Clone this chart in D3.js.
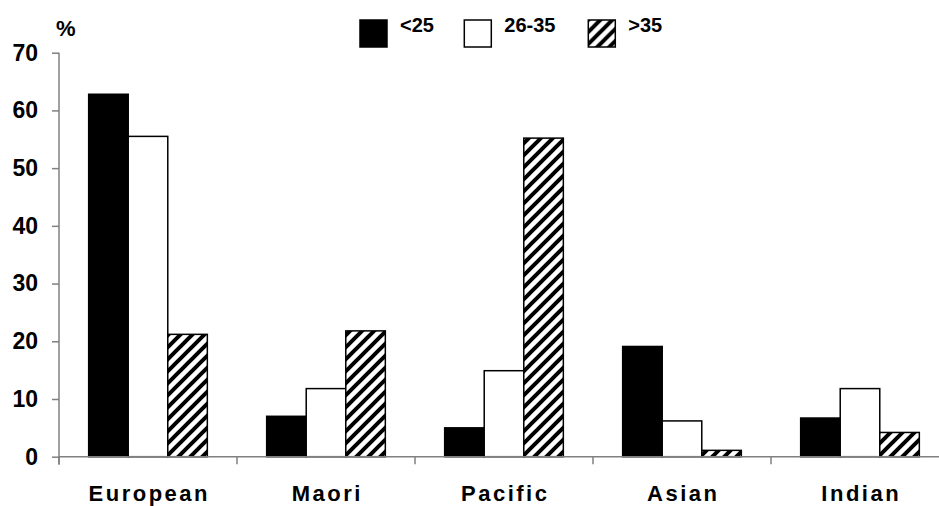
<!DOCTYPE html>
<html>
<head>
<meta charset="utf-8">
<script src="https://cdn.jsdelivr.net/npm/d3@7/dist/d3.min.js"></script>
<style>
  html, body { margin: 0; padding: 0; background: #fff; }
  svg { display: block; font-family: Arial, "Liberation Sans", sans-serif; font-weight: bold; }
</style>
</head>
<body>
<svg id="chart" width="939" height="506"></svg>
<script>
// Share (%) of each ethnic group by age band
const categories = ["European", "Maori", "Pacific", "Asian", "Indian"];
const seriesNames = ["<25", "26-35", ">35"];
const under25 = [62.8, 7.0, 5.0, 19.1, 6.7];
const age26to35 = [55.5, 11.8, 14.9, 6.2, 11.8];
const over35 = [21.2, 21.8, 55.2, 1.1, 4.2];
const yTicks = [0, 10, 20, 30, 40, 50, 60, 70];

const seriesValues = [under25, age26to35, over35];
const fills = ["#000", "#fff", "url(#hatch)"];

const svg = d3.select("#chart");
const axisColor = "#808080";

// diagonal hatch fill
const defs = svg.append("defs");
const pat = defs.append("pattern")
  .attr("id", "hatch")
  .attr("patternUnits", "userSpaceOnUse")
  .attr("width", 12).attr("height", 12);
pat.append("rect").attr("width", 12).attr("height", 12).attr("fill", "#fff");
pat.append("path")
  .attr("d", "M-3,3 L3,-3 M0,12 L12,0 M9,15 L15,9")
  .attr("stroke", "#000").attr("stroke-width", 4);

const x0 = d3.scaleBand().domain(categories).range([59, 949]).padding(0);
const x1 = d3.scaleBand().domain(seriesNames)
  .range([x0.bandwidth() / 6, x0.bandwidth() * 5 / 6]).padding(0);
const y = d3.scaleLinear().domain([0, 70]).range([456.7, 52.7]);

// bars
const groups = svg.append("g").selectAll("g")
  .data(categories).join("g")
  .attr("transform", d => `translate(${x0(d)},0)`);

groups.selectAll("rect")
  .data((c, ci) => seriesNames.map((s, si) => ({ s, si, v: seriesValues[si][ci] })))
  .join("rect")
  .attr("x", d => x1(d.s))
  .attr("y", d => y(d.v))
  .attr("width", x1.bandwidth())
  .attr("height", d => y(0) - y(d.v))
  .attr("fill", d => fills[d.si])
  .attr("stroke", "#000")
  .attr("stroke-width", 1.5);

// y axis
const yAxis = svg.append("g")
  .attr("transform", "translate(59,0)")
  .call(d3.axisLeft(y).tickValues(yTicks).tickSize(7).tickPadding(14).tickSizeOuter(0));
yAxis.select(".domain").attr("stroke", axisColor).attr("stroke-width", 1.5)
  .attr("d", `M0,${y(70)}V${y(0) + 8}`);
yAxis.selectAll(".tick line").attr("stroke", axisColor).attr("stroke-width", 1.5);
yAxis.selectAll(".tick text")
  .attr("fill", "#000").attr("font-size", 23).attr("font-weight", "bold")
  .attr("font-family", "Arial, 'Liberation Sans', sans-serif");

// x axis baseline with ticks at category boundaries
const xAxis = svg.append("g").attr("transform", `translate(0,${y(0)})`);
xAxis.append("line")
  .attr("x1", 59).attr("x2", 939)
  .attr("stroke", axisColor).attr("stroke-width", 1.5);
const bounds = categories.map(c => x0(c)).concat([x0.range()[1]]);
xAxis.selectAll(".xtick").data(bounds.filter(b => b <= 939)).join("line")
  .attr("class", "xtick")
  .attr("x1", d => d).attr("x2", d => d)
  .attr("y1", 0).attr("y2", 7.5)
  .attr("stroke", axisColor).attr("stroke-width", 1.5);

// category labels
svg.append("g").selectAll("text")
  .data(categories).join("text")
  .attr("x", d => x0(d) + x0.bandwidth() / 2 + 1.25)
  .attr("y", 500.5)
  .attr("text-anchor", "middle")
  .attr("font-size", 22)
  .attr("letter-spacing", 2.5)
  .text(d => d);

// unit label
svg.append("text").attr("x", 56).attr("y", 36).attr("font-size", 22).text("%");

// legend
const legendX = [360, 464.3, 588.3];
const legend = svg.append("g").selectAll("g")
  .data(seriesNames).join("g")
  .attr("transform", (d, i) => `translate(${legendX[i]},20)`);
legend.append("rect")
  .attr("width", 27).attr("height", 27)
  .attr("fill", (d, i) => fills[i])
  .attr("stroke", "#000").attr("stroke-width", 1.5);
legend.append("text")
  .attr("x", 40).attr("y", 12)
  .attr("font-size", 20)
  .text(d => d);
</script>
</body>
</html>
